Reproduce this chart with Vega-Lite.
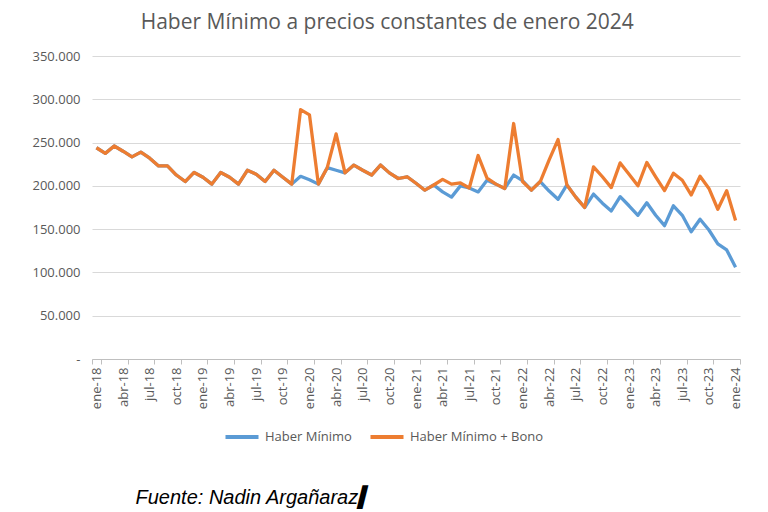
{
  "$schema": "https://vega.github.io/schema/vega-lite/v6.json",
  "autosize": "none",
  "width": 648,
  "height": 303,
  "padding": {"left": 92, "top": 56, "right": 28, "bottom": 153},
  "background": "white",
  "config": {
    "view": {"stroke": null},
    "font": "Open Sans",
    "axisY": {
      "domain": false,
      "ticks": false,
      "gridColor": "#d9d9d9",
      "labelFontSize": 13,
      "labelColor": "#595959",
      "labelPadding": 12
    }
  },
  "title": {
    "text": "Haber Mínimo a precios constantes de enero 2024",
    "font": "Open Sans",
    "fontSize": 21,
    "fontWeight": "normal",
    "color": "#595959",
    "anchor": "middle",
    "frame": "bounds",
    "offset": 17
  },
  "data": {
    "values": [
      {"mes": "ene-18", "minimo": 244000, "bono": 244000},
      {"mes": "feb-18", "minimo": 237500, "bono": 237500},
      {"mes": "mar-18", "minimo": 246000, "bono": 246000},
      {"mes": "abr-18", "minimo": 240000, "bono": 240000},
      {"mes": "may-18", "minimo": 233500, "bono": 233500},
      {"mes": "jun-18", "minimo": 239000, "bono": 239000},
      {"mes": "jul-18", "minimo": 232000, "bono": 232000},
      {"mes": "ago-18", "minimo": 223000, "bono": 223000},
      {"mes": "sep-18", "minimo": 223000, "bono": 223000},
      {"mes": "oct-18", "minimo": 212500, "bono": 212500},
      {"mes": "nov-18", "minimo": 205000, "bono": 205000},
      {"mes": "dic-18", "minimo": 215500, "bono": 215500},
      {"mes": "ene-19", "minimo": 210000, "bono": 210000},
      {"mes": "feb-19", "minimo": 202000, "bono": 202000},
      {"mes": "mar-19", "minimo": 215500, "bono": 215500},
      {"mes": "abr-19", "minimo": 210000, "bono": 210000},
      {"mes": "may-19", "minimo": 202000, "bono": 202000},
      {"mes": "jun-19", "minimo": 218000, "bono": 218000},
      {"mes": "jul-19", "minimo": 213500, "bono": 213500},
      {"mes": "ago-19", "minimo": 205000, "bono": 205000},
      {"mes": "sep-19", "minimo": 218000, "bono": 218000},
      {"mes": "oct-19", "minimo": 210000, "bono": 210000},
      {"mes": "nov-19", "minimo": 202000, "bono": 202000},
      {"mes": "dic-19", "minimo": 211000, "bono": 288000},
      {"mes": "ene-20", "minimo": 207000, "bono": 282000},
      {"mes": "feb-20", "minimo": 202000, "bono": 202000},
      {"mes": "mar-20", "minimo": 221000, "bono": 221000},
      {"mes": "abr-20", "minimo": 218000, "bono": 260000},
      {"mes": "may-20", "minimo": 215000, "bono": 215000},
      {"mes": "jun-20", "minimo": 224000, "bono": 224000},
      {"mes": "jul-20", "minimo": 218000, "bono": 218000},
      {"mes": "ago-20", "minimo": 212500, "bono": 212500},
      {"mes": "sep-20", "minimo": 224000, "bono": 224000},
      {"mes": "oct-20", "minimo": 215000, "bono": 215000},
      {"mes": "nov-20", "minimo": 208500, "bono": 208500},
      {"mes": "dic-20", "minimo": 210500, "bono": 210500},
      {"mes": "ene-21", "minimo": 203000, "bono": 203000},
      {"mes": "feb-21", "minimo": 195000, "bono": 195000},
      {"mes": "mar-21", "minimo": 201000, "bono": 201000},
      {"mes": "abr-21", "minimo": 193000, "bono": 207500},
      {"mes": "may-21", "minimo": 187000, "bono": 202000},
      {"mes": "jun-21", "minimo": 200000, "bono": 203500},
      {"mes": "jul-21", "minimo": 197500, "bono": 197500},
      {"mes": "ago-21", "minimo": 193000, "bono": 235000},
      {"mes": "sep-21", "minimo": 206500, "bono": 209000},
      {"mes": "oct-21", "minimo": 202000, "bono": 202000},
      {"mes": "nov-21", "minimo": 197000, "bono": 197000},
      {"mes": "dic-21", "minimo": 212500, "bono": 272000},
      {"mes": "ene-22", "minimo": 206000, "bono": 205000},
      {"mes": "feb-22", "minimo": 195000, "bono": 195000},
      {"mes": "mar-22", "minimo": 205000, "bono": 205000},
      {"mes": "abr-22", "minimo": 194000, "bono": 230000},
      {"mes": "may-22", "minimo": 184500, "bono": 253500},
      {"mes": "jun-22", "minimo": 201000, "bono": 201000},
      {"mes": "jul-22", "minimo": 187000, "bono": 187000},
      {"mes": "ago-22", "minimo": 175000, "bono": 175000},
      {"mes": "sep-22", "minimo": 190500, "bono": 222000},
      {"mes": "oct-22", "minimo": 180000, "bono": 210500},
      {"mes": "nov-22", "minimo": 171000, "bono": 198000},
      {"mes": "dic-22", "minimo": 187500, "bono": 226500},
      {"mes": "ene-23", "minimo": 177000, "bono": 213500},
      {"mes": "feb-23", "minimo": 166000, "bono": 200000},
      {"mes": "mar-23", "minimo": 180500, "bono": 227000},
      {"mes": "abr-23", "minimo": 166000, "bono": 210500},
      {"mes": "may-23", "minimo": 154000, "bono": 194500},
      {"mes": "jun-23", "minimo": 177000, "bono": 214500},
      {"mes": "jul-23", "minimo": 166000, "bono": 206500},
      {"mes": "ago-23", "minimo": 147000, "bono": 189500},
      {"mes": "sep-23", "minimo": 161500, "bono": 211000},
      {"mes": "oct-23", "minimo": 149000, "bono": 197000},
      {"mes": "nov-23", "minimo": 133000, "bono": 173000},
      {"mes": "dic-23", "minimo": 126000, "bono": 194500},
      {"mes": "ene-24", "minimo": 106000, "bono": 160000}
    ]
  },
  "encoding": {
    "x": {
      "field": "mes",
      "type": "ordinal",
      "sort": null,
      "scale": {"type": "band", "paddingInner": 0, "paddingOuter": 0},
      "axis": {
        "values": ["ene-18", "abr-18", "jul-18", "oct-18", "ene-19", "abr-19", "jul-19", "oct-19", "ene-20", "abr-20", "jul-20", "oct-20", "ene-21", "abr-21", "jul-21", "oct-21", "ene-22", "abr-22", "jul-22", "oct-22", "ene-23", "abr-23", "jul-23", "oct-23", "ene-24"],
        "labelAngle": 270,
        "labelFontSize": 13,
        "labelColor": "#595959",
        "labelPadding": 3,
        "tickBand": "extent",
        "tickSize": 5,
        "tickColor": "#bfbfbf",
        "domainColor": "#bfbfbf",
        "grid": false,
        "title": "Fuente: Nadin Argañaraz▍",
        "titleFont": "Liberation Sans",
        "titleFontStyle": "italic",
        "titleFontWeight": "normal",
        "titleFontSize": 20,
        "titleColor": "black",
        "titleX": 43,
        "titleY": 144,
        "titleAlign": "left",
        "titleBaseline": "alphabetic"
      }
    }
  },
  "layer": [
    {
      "mark": {"type": "line", "strokeWidth": 3.3, "strokeJoin": "round"},
      "encoding": {
        "y": {
          "field": "minimo",
          "type": "quantitative",
          "title": null,
          "scale": {"domain": [0, 350000], "nice": false},
          "axis": {
            "values": [0, 50000, 100000, 150000, 200000, 250000, 300000, 350000],
            "labelExpr": "datum.value == 0 ? '-' : replace(format(datum.value, ',.0f'), ',', '.')"
          }
        },
        "color": {
          "datum": "Haber Mínimo",
          "scale": {"domain": ["Haber Mínimo", "Haber Mínimo + Bono"], "range": ["#5B9BD5", "#ED7D31"]},
          "legend": {
            "orient": "none",
            "legendX": 131,
            "legendY": 362,
            "direction": "horizontal",
            "title": null,
            "symbolType": "stroke",
            "symbolStrokeWidth": 4,
            "symbolSize": 1090,
            "labelFontSize": 13,
            "labelColor": "#595959",
            "labelFont": "Open Sans",
            "labelOffset": 4,
            "columnPadding": 10
          }
        }
      }
    },
    {
      "mark": {"type": "line", "strokeWidth": 3.3, "strokeJoin": "round"},
      "encoding": {
        "y": {"field": "bono", "type": "quantitative", "title": null},
        "color": {"datum": "Haber Mínimo + Bono"}
      }
    }
  ]
}
